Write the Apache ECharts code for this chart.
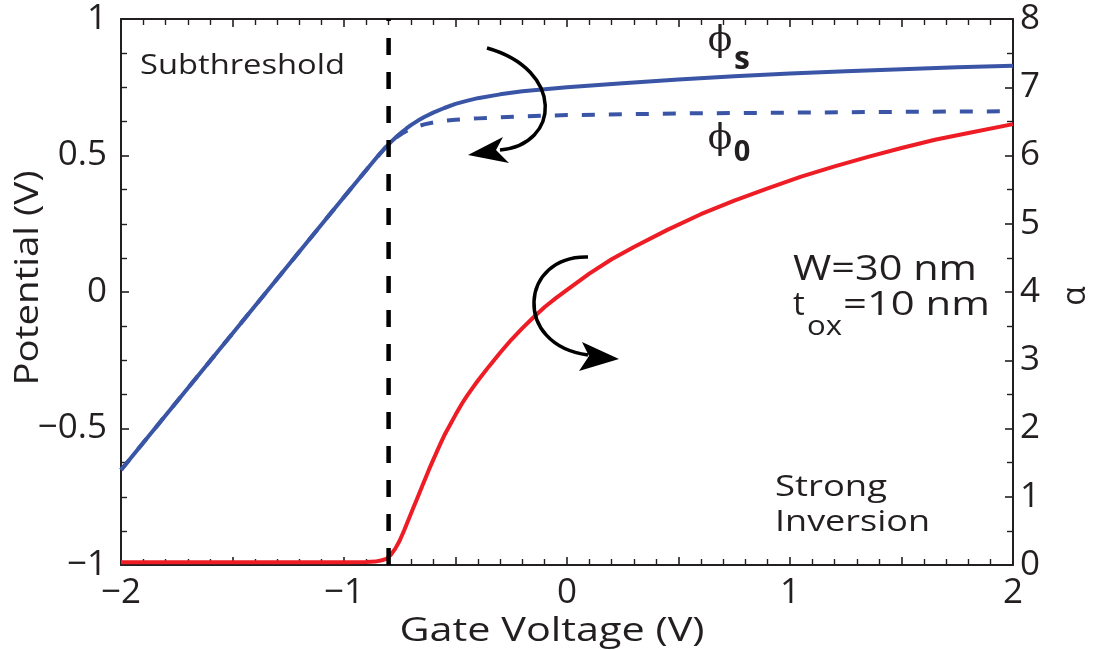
<!DOCTYPE html>
<html>
<head>
<meta charset="utf-8">
<script src="https://cdn.jsdelivr.net/npm/echarts@6/dist/echarts.min.js"></script>
<style>
  html, body { margin: 0; padding: 0; background: #fff; }
  #chart { width: 1096px; height: 650px; }
</style>
</head>
<body>
<div id="chart"></div>
<script>
// Surface potential phi_s versus gate voltage (left axis, V)
const vgPhiS = [-2, -1.5, -1, -0.9, -0.85, -0.82, -0.8, -0.78, -0.76, -0.74, -0.72, -0.7, -0.67, -0.64, -0.6, -0.55, -0.5, -0.45, -0.4, -0.3, -0.2, -0.1, 0, 0.25, 0.5, 0.75, 1, 1.25, 1.5, 1.75, 2];
const phiS   = [-0.652, -0.152, 0.348, 0.447, 0.496, 0.524, 0.541, 0.557, 0.572, 0.586, 0.599, 0.611, 0.627, 0.641, 0.657, 0.674, 0.689, 0.700, 0.710, 0.724, 0.735, 0.743, 0.750, 0.765, 0.778, 0.790, 0.800, 0.809, 0.816, 0.823, 0.829];

// Centre potential phi_0 versus gate voltage (left axis, V)
const vgPhi0 = [-2, -1.5, -1, -0.9, -0.85, -0.82, -0.8, -0.78, -0.76, -0.74, -0.72, -0.7, -0.67, -0.64, -0.6, -0.55, -0.5, -0.4, -0.3, -0.2, -0.1, 0, 0.5, 1, 1.5, 2];
const phi0   = [-0.652, -0.152, 0.348, 0.447, 0.496, 0.524, 0.541, 0.556, 0.569, 0.580, 0.590, 0.598, 0.607, 0.614, 0.621, 0.627, 0.631, 0.636, 0.640, 0.643, 0.646, 0.648, 0.654, 0.657, 0.660, 0.662];

// Parameter alpha versus gate voltage (right axis)
const vgAlpha = [-2, -1.5, -1, -0.9, -0.86, -0.83, -0.81, -0.79, -0.77, -0.75, -0.73, -0.71, -0.69, -0.67, -0.65, -0.62, -0.6, -0.57, -0.55, -0.52, -0.5, -0.47, -0.45, -0.42, -0.4, -0.35, -0.3, -0.25, -0.2, -0.15, -0.1, -0.05, 0, 0.1, 0.2, 0.3, 0.45, 0.6, 0.75, 0.9, 1.05, 1.2, 1.35, 1.5, 1.65, 1.8, 2];
const alpha   = [0.04, 0.04, 0.04, 0.045, 0.05, 0.07, 0.09, 0.15, 0.24, 0.36, 0.51, 0.67, 0.83, 0.99, 1.15, 1.39, 1.54, 1.76, 1.90, 2.08, 2.20, 2.37, 2.47, 2.61, 2.70, 2.91, 3.11, 3.30, 3.47, 3.63, 3.78, 3.91, 4.03, 4.27, 4.48, 4.66, 4.91, 5.14, 5.34, 5.52, 5.69, 5.84, 5.98, 6.11, 6.23, 6.33, 6.46];

// Boundary between subthreshold and strong inversion (V)
const thresholdV = -0.8;

// Labelled ticks
const xTickValues = [-2, -1, 0, 1, 2];
const yLeftTickValues = [-1, -0.5, 0, 0.5, 1];
const yRightTickValues = [0, 1, 2, 3, 4, 5, 6, 7, 8];

const FONT = '"Open Sans", "Noto Sans", sans-serif';
const INK = '#231f20';
const BLUE = '#3a55a6';
const RED = '#ee1d25';

const pairs = (xs, ys) => xs.map((x, i) => [x, ys[i]]);
const fmtNum = v => String(v).replace('-', '\u2212');

// Horizontal stretch that makes a string span a given width in a given font
const measureCtx = document.createElement('canvas').getContext('2d');
function stretchTo(text, font, width) {
  measureCtx.font = font;
  return width / measureCtx.measureText(text).width;
}

// Plain text annotation, optionally stretched to a set width
function label(text, x, y, size, width, opts) {
  opts = opts || {};
  const font = (opts.bold ? 'bold ' : '') + size + 'px ' + (opts.family || FONT);
  const el = {
    type: 'text', x: x, y: y, z: 20,
    style: { text: text, font: font, fill: INK, align: opts.align || 'left', verticalAlign: 'middle' }
  };
  if (width) el.scaleX = stretchTo(text, font, width);
  if (opts.rotation) el.rotation = opts.rotation;
  return el;
}

const tickStyle = { show: true, inside: true, length: 8, lineStyle: { color: INK, width: 1.6 } };
const minorStyle = n => ({ show: true, splitNumber: n, length: 6, lineStyle: { color: INK, width: 1.4 } });
const axisLineStyle = { show: true, onZero: false, lineStyle: { color: INK, width: 2 } };
const tickFont = { fontFamily: FONT, fontSize: 35, color: INK };

const chart = echarts.init(document.getElementById('chart'), null, { renderer: 'canvas' });

const option = {
  backgroundColor: '#fff',
  animation: false,
  grid: { left: 121, right: 83, top: 19, bottom: 85, containLabel: false },
  xAxis: [
    {
      type: 'value', position: 'bottom', min: -2, max: 2, interval: 0.5,
      axisLine: axisLineStyle, axisTick: tickStyle, minorTick: minorStyle(5),
      splitLine: { show: false },
      axisLabel: Object.assign({}, tickFont, {
        margin: 11,
        formatter: v => xTickValues.includes(v) ? fmtNum(v) : ''
      })
    },
    {
      type: 'value', position: 'top', min: -2, max: 2, interval: 0.5,
      axisLine: axisLineStyle, axisTick: tickStyle, minorTick: minorStyle(5),
      splitLine: { show: false },
      axisLabel: { show: false }
    }
  ],
  yAxis: [
    {
      type: 'value', position: 'left', min: -1, max: 1, interval: 0.5,
      axisLine: axisLineStyle, axisTick: tickStyle, minorTick: minorStyle(4),
      splitLine: { show: false },
      axisLabel: Object.assign({}, tickFont, {
        margin: 14,
        formatter: v => yLeftTickValues.includes(v) ? fmtNum(v) : ''
      })
    },
    {
      type: 'value', position: 'right', min: 0, max: 8, interval: 1,
      axisLine: axisLineStyle, axisTick: tickStyle, minorTick: minorStyle(2),
      splitLine: { show: false },
      axisLabel: Object.assign({}, tickFont, {
        margin: 7,
        formatter: v => yRightTickValues.includes(v) ? fmtNum(v) : ''
      })
    }
  ],
  series: [
    {
      name: 'alpha', type: 'line', xAxisIndex: 0, yAxisIndex: 1,
      data: pairs(vgAlpha, alpha), showSymbol: false, smooth: false,
      lineStyle: { color: RED, width: 4, join: 'round' }, z: 3
    },
    {
      name: 'phi0', type: 'line', xAxisIndex: 0, yAxisIndex: 0,
      data: pairs(vgPhi0, phi0), showSymbol: false, smooth: false,
      lineStyle: { color: BLUE, width: 4, type: [13, 14], join: 'round' }, z: 3
    },
    {
      name: 'phiS', type: 'line', xAxisIndex: 0, yAxisIndex: 0,
      data: pairs(vgPhiS, phiS), showSymbol: false, smooth: false,
      lineStyle: { color: BLUE, width: 4, join: 'round' }, z: 4
    },
    {
      name: 'threshold', type: 'line', xAxisIndex: 0, yAxisIndex: 0,
      data: [[thresholdV, -1], [thresholdV, 1]], showSymbol: false,
      lineStyle: { color: '#000', width: 4.5, type: [17, 17] }, z: 5
    }
  ],
  graphic: [
    // axis titles
    label('Gate Voltage (V)', 552, 632, 32, 305, { align: 'center' }),
    label('Potential (V)', 29, 278, 32, 215, { align: 'center', rotation: Math.PI / 2 }),
    label('α', 1076, 296, 32, 0, { align: 'center', rotation: Math.PI / 2 }),

    // region labels
    label('Subthreshold', 140, 66, 28, 205),
    label('Strong', 775, 487, 30, 112),
    label('Inversion', 775, 522, 30, 155),

    // device parameters
    label('W=30 nm', 793, 270, 34, 184),
    label('t', 793, 306, 33, 0),
    label('ox', 807, 327, 27, 35),
    label('=10 nm', 843, 306, 33, 147),

    // curve labels
    label('ϕ', 720, 42, 36, 0, { align: 'center', family: '"DejaVu Serif", serif' }),
    label('s', 742, 60, 32, 0, { align: 'center', bold: true }),
    label('ϕ', 720, 140, 36, 0, { align: 'center', family: '"DejaVu Serif", serif' }),
    label('0', 742, 153, 29, 0, { align: 'center', bold: true }),

    // arrow pointing to the left-axis curves
    { type: 'bezierCurve', z: 10,
      shape: { x1: 487, y1: 48, cpx1: 565, cpy1: 70, cpx2: 560, cpy2: 145, x2: 500, y2: 150 },
      style: { stroke: '#000', lineWidth: 3.5, fill: null } },
    { type: 'polygon', z: 10, shape: { points: [[468, 155], [503, 137], [496, 150], [509, 163]] }, style: { fill: '#000' } },

    // arrow pointing to the right-axis curve
    { type: 'bezierCurve', z: 10,
      shape: { x1: 588, y1: 257, cpx1: 520, cpy1: 255, cpx2: 512, cpy2: 345, x2: 588, y2: 355 },
      style: { stroke: '#000', lineWidth: 3.5, fill: null } },
    { type: 'polygon', z: 10, shape: { points: [[619, 359], [582, 342], [589, 356], [579, 371]] }, style: { fill: '#000' } }
  ]
};

chart.setOption(option);
</script>
</body>
</html>
